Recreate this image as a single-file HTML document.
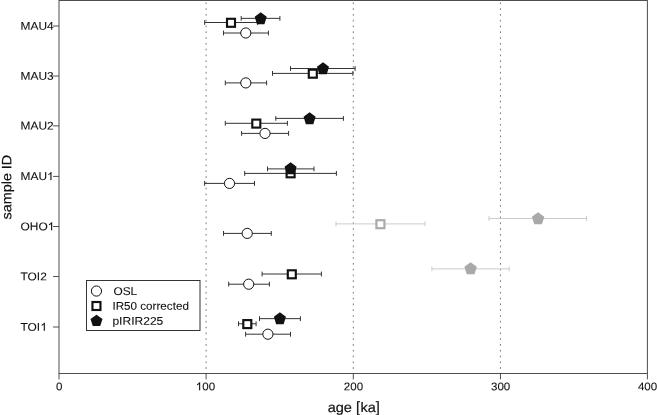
<!DOCTYPE html>
<html><head><meta charset="utf-8"><title>chart</title>
<style>html,body{margin:0;padding:0;background:#fff;}body{width:657px;height:415px;overflow:hidden;}svg{display:block;will-change:transform;}text{font-family:"Liberation Sans",sans-serif;fill:#111;stroke:#111;stroke-width:0.1px;}</style></head><body>
<svg width="657" height="415" viewBox="0 0 657 415">
<rect x="0" y="0" width="657" height="415" fill="#fff"/>
<line x1="206.10" y1="0.50" x2="206.10" y2="373.50" stroke="#7a7a7a" stroke-width="1" stroke-dasharray="1.7 4.09" stroke-dashoffset="-1.9"/>
<line x1="353.30" y1="0.50" x2="353.30" y2="373.50" stroke="#7a7a7a" stroke-width="1" stroke-dasharray="1.7 4.09" stroke-dashoffset="-1.9"/>
<line x1="500.45" y1="0.50" x2="500.45" y2="373.50" stroke="#7a7a7a" stroke-width="1" stroke-dasharray="1.7 4.09" stroke-dashoffset="-1.9"/>
<path d="M223.50 33.00H268.40M223.50 30.60V35.40M268.40 30.60V35.40" stroke="#333" stroke-width="1" fill="none"/><circle cx="245.80" cy="33.00" r="5.1" fill="#fff" stroke="#111" stroke-width="1"/>
<path d="M225.30 82.90H266.60M225.30 80.50V85.30M266.60 80.50V85.30" stroke="#333" stroke-width="1" fill="none"/><circle cx="245.80" cy="82.90" r="5.1" fill="#fff" stroke="#111" stroke-width="1"/>
<path d="M241.60 133.40H288.60M241.60 131.00V135.80M288.60 131.00V135.80" stroke="#333" stroke-width="1" fill="none"/><circle cx="265.00" cy="133.40" r="5.1" fill="#fff" stroke="#111" stroke-width="1"/>
<path d="M204.60 183.40H254.50M204.60 181.00V185.80M254.50 181.00V185.80" stroke="#333" stroke-width="1" fill="none"/><circle cx="229.50" cy="183.40" r="5.1" fill="#fff" stroke="#111" stroke-width="1"/>
<path d="M223.50 233.40H271.30M223.50 231.00V235.80M271.30 231.00V235.80" stroke="#333" stroke-width="1" fill="none"/><circle cx="247.20" cy="233.40" r="5.1" fill="#fff" stroke="#111" stroke-width="1"/>
<path d="M228.70 284.20H269.40M228.70 281.80V286.60M269.40 281.80V286.60" stroke="#333" stroke-width="1" fill="none"/><circle cx="248.70" cy="284.20" r="5.1" fill="#fff" stroke="#111" stroke-width="1"/>
<path d="M245.60 334.20H290.50M245.60 331.80V336.60M290.50 331.80V336.60" stroke="#333" stroke-width="1" fill="none"/><circle cx="267.90" cy="334.20" r="5.1" fill="#fff" stroke="#111" stroke-width="1"/>
<path d="M204.70 22.50H257.60M204.70 20.10V24.90M257.60 20.10V24.90" stroke="#333" stroke-width="1" fill="none"/><rect x="227.00" y="18.80" width="8" height="8" fill="#fff" stroke="#111" stroke-width="2.15"/>
<path d="M272.50 73.40H352.90M272.50 71.00V75.80M352.90 71.00V75.80" stroke="#333" stroke-width="1" fill="none"/><rect x="308.80" y="69.70" width="8" height="8" fill="#fff" stroke="#111" stroke-width="2.15"/>
<path d="M225.30 123.30H287.40M225.30 120.90V125.70M287.40 120.90V125.70" stroke="#333" stroke-width="1" fill="none"/><rect x="252.30" y="119.60" width="8" height="8" fill="#fff" stroke="#111" stroke-width="2.15"/>
<path d="M244.70 173.40H336.40M244.70 171.00V175.80M336.40 171.00V175.80" stroke="#333" stroke-width="1" fill="none"/><rect x="286.60" y="169.30" width="8" height="8" fill="#fff" stroke="#111" stroke-width="2.15"/>
<path d="M336.00 223.90H424.90M336.00 221.50V226.30M424.90 221.50V226.30" stroke="#cbcbcb" stroke-width="1" fill="none"/><rect x="376.40" y="220.20" width="8" height="8" fill="#fff" stroke="#a9a9a9" stroke-width="2.15"/>
<path d="M262.10 274.00H321.40M262.10 271.60V276.40M321.40 271.60V276.40" stroke="#333" stroke-width="1" fill="none"/><rect x="287.80" y="270.30" width="8" height="8" fill="#fff" stroke="#111" stroke-width="2.15"/>
<path d="M238.50 323.80H256.10M238.50 321.40V326.20M256.10 321.40V326.20" stroke="#333" stroke-width="1" fill="none"/><rect x="243.30" y="320.10" width="8" height="8" fill="#fff" stroke="#111" stroke-width="2.15"/>
<path d="M241.20 18.35H279.90M241.20 15.95V20.75M279.90 15.95V20.75" stroke="#333" stroke-width="1" fill="none"/><polygon points="260.70,12.30 266.74,16.83 264.43,24.15 256.97,24.15 254.66,16.83" fill="#111"/>
<path d="M290.50 68.50H355.10M290.50 66.10V70.90M355.10 66.10V70.90" stroke="#333" stroke-width="1" fill="none"/><polygon points="323.00,62.30 329.04,66.83 326.73,74.15 319.27,74.15 316.96,66.83" fill="#111"/>
<path d="M275.80 118.40H343.40M275.80 116.00V120.80M343.40 116.00V120.80" stroke="#333" stroke-width="1" fill="none"/><polygon points="309.60,112.30 315.64,116.83 313.33,124.15 305.87,124.15 303.56,116.83" fill="#111"/>
<path d="M267.50 168.90H314.00M267.50 166.50V171.30M314.00 166.50V171.30" stroke="#333" stroke-width="1" fill="none"/><polygon points="290.60,162.30 296.64,166.83 294.33,174.15 286.87,174.15 284.56,166.83" fill="#111"/>
<path d="M489.00 218.50H586.50M489.00 216.10V220.90M586.50 216.10V220.90" stroke="#cbcbcb" stroke-width="1" fill="none"/><polygon points="538.10,212.30 544.33,216.83 541.95,224.15 534.25,224.15 531.87,216.83" fill="#a9a9a9"/>
<path d="M431.90 268.90H509.20M431.90 266.50V271.30M509.20 266.50V271.30" stroke="#cbcbcb" stroke-width="1" fill="none"/><polygon points="470.60,262.30 476.83,266.83 474.45,274.15 466.75,274.15 464.37,266.83" fill="#a9a9a9"/>
<path d="M259.50 318.65H300.40M259.50 316.25V321.05M300.40 316.25V321.05" stroke="#333" stroke-width="1" fill="none"/><polygon points="279.90,312.30 285.94,316.83 283.63,324.15 276.17,324.15 273.86,316.83" fill="#111"/>
<rect x="59.00" y="0.50" width="588.40" height="373.00" fill="none" stroke="#4e4e4e" stroke-width="1"/>
<line x1="53.10" y1="26.00" x2="59.00" y2="26.00" stroke="#4e4e4e" stroke-width="1"/>
<text transform="translate(20.50 29.70) rotate(0.030) scale(0.995 0.930)" font-size="12" text-anchor="start">MAU4</text>
<line x1="53.10" y1="76.00" x2="59.00" y2="76.00" stroke="#4e4e4e" stroke-width="1"/>
<text transform="translate(20.50 79.70) rotate(0.030) scale(0.995 0.930)" font-size="12" text-anchor="start">MAU3</text>
<line x1="53.10" y1="125.90" x2="59.00" y2="125.90" stroke="#4e4e4e" stroke-width="1"/>
<text transform="translate(20.50 129.60) rotate(0.030) scale(0.995 0.930)" font-size="12" text-anchor="start">MAU2</text>
<line x1="53.10" y1="176.40" x2="59.00" y2="176.40" stroke="#4e4e4e" stroke-width="1"/>
<text transform="translate(20.50 180.10) rotate(0.030) scale(0.995 0.930)" font-size="12" text-anchor="start">MAU</text><path transform="translate(47.03 180.10) rotate(0.03) scale(0.00583 0.00545)" d="M763 0H583V-1147Q518-1085 412.5-1023Q307-961 223-930V-1104Q374-1175 487-1276Q600-1377 647-1466H763Z" fill="#111" stroke="#111" stroke-width="17"/>
<line x1="53.10" y1="226.50" x2="59.00" y2="226.50" stroke="#4e4e4e" stroke-width="1"/>
<text transform="translate(20.50 230.20) rotate(0.030) scale(0.995 0.930)" font-size="12" text-anchor="start">OHO</text><path transform="translate(47.70 230.20) rotate(0.03) scale(0.00583 0.00545)" d="M763 0H583V-1147Q518-1085 412.5-1023Q307-961 223-930V-1104Q374-1175 487-1276Q600-1377 647-1466H763Z" fill="#111" stroke="#111" stroke-width="17"/>
<line x1="53.10" y1="276.50" x2="59.00" y2="276.50" stroke="#4e4e4e" stroke-width="1"/>
<text transform="translate(20.50 280.20) rotate(0.030) scale(0.995 0.930)" font-size="12" text-anchor="start">TOI2</text>
<line x1="53.10" y1="327.00" x2="59.00" y2="327.00" stroke="#4e4e4e" stroke-width="1"/>
<text transform="translate(20.50 330.70) rotate(0.030) scale(0.995 0.930)" font-size="12" text-anchor="start">TOI</text><path transform="translate(40.40 330.70) rotate(0.03) scale(0.00583 0.00545)" d="M763 0H583V-1147Q518-1085 412.5-1023Q307-961 223-930V-1104Q374-1175 487-1276Q600-1377 647-1466H763Z" fill="#111" stroke="#111" stroke-width="17"/>
<line x1="59.00" y1="373.50" x2="59.00" y2="379.40" stroke="#4e4e4e" stroke-width="1"/>
<text transform="translate(59.15 390.15) rotate(0.030) scale(0.962 0.920)" font-size="12" text-anchor="middle">0</text>
<line x1="206.10" y1="373.50" x2="206.10" y2="379.40" stroke="#4e4e4e" stroke-width="1"/>
<path transform="translate(195.82 390.15) rotate(0.03) scale(0.00564 0.00539)" d="M763 0H583V-1147Q518-1085 412.5-1023Q307-961 223-930V-1104Q374-1175 487-1276Q600-1377 647-1466H763Z" fill="#111" stroke="#111" stroke-width="17"/><text transform="translate(202.24 390.15) rotate(0.030) scale(0.962 0.920)" font-size="12" text-anchor="start">00</text>
<line x1="353.30" y1="373.50" x2="353.30" y2="379.40" stroke="#4e4e4e" stroke-width="1"/>
<text transform="translate(353.45 390.15) rotate(0.030) scale(0.962 0.920)" font-size="12" text-anchor="middle">200</text>
<line x1="500.45" y1="373.50" x2="500.45" y2="379.40" stroke="#4e4e4e" stroke-width="1"/>
<text transform="translate(500.60 390.15) rotate(0.030) scale(0.962 0.920)" font-size="12" text-anchor="middle">300</text>
<line x1="647.40" y1="373.50" x2="647.40" y2="379.40" stroke="#4e4e4e" stroke-width="1"/>
<text transform="translate(647.55 390.15) rotate(0.030) scale(0.962 0.920)" font-size="12" text-anchor="middle">400</text>
<text transform="translate(327.63 412.00) rotate(0.030) scale(0.995 0.935)" font-size="14.67" text-anchor="start" style="stroke-width:0.2px">age</text>
<text transform="translate(356.04 412.20) rotate(0.030) scale(0.995 1.030)" font-size="14.67" text-anchor="start" style="stroke-width:0.2px">[</text>
<text transform="translate(360.40 412.00) rotate(0.030) scale(0.995 0.935)" font-size="14.67" text-anchor="start" style="stroke-width:0.2px">ka</text>
<text transform="translate(375.76 412.20) rotate(0.030) scale(0.995 1.030)" font-size="14.67" text-anchor="start" style="stroke-width:0.2px">]</text>
<text transform="translate(11.20 187.10) rotate(-89.970) scale(0.980 0.920)" font-size="14.67" text-anchor="middle" style="stroke-width:0.2px">sample ID</text>
<rect x="86.5" y="280.5" width="113.5" height="50" fill="#fff" stroke="#333" stroke-width="1"/>
<circle cx="96.45" cy="291.05" r="5.1" fill="#fff" stroke="#111" stroke-width="1"/>
<rect x="92.45" y="302.00" width="8" height="8" fill="#fff" stroke="#111" stroke-width="2.15"/>
<polygon points="96.50,314.80 102.49,319.12 100.20,326.11 92.80,326.11 90.51,319.12" fill="#111"/>
<text transform="translate(113.40 294.90) rotate(0.030) scale(0.990 0.930)" font-size="12" text-anchor="start">OSL</text>
<text transform="translate(112.40 309.80) rotate(0.030) scale(0.973 0.930)" font-size="12" text-anchor="start">IR50 corrected</text>
<text transform="translate(112.40 324.70) rotate(0.030) scale(1.005 0.930)" font-size="12" text-anchor="start">pIRIR225</text>
</svg></body></html>
